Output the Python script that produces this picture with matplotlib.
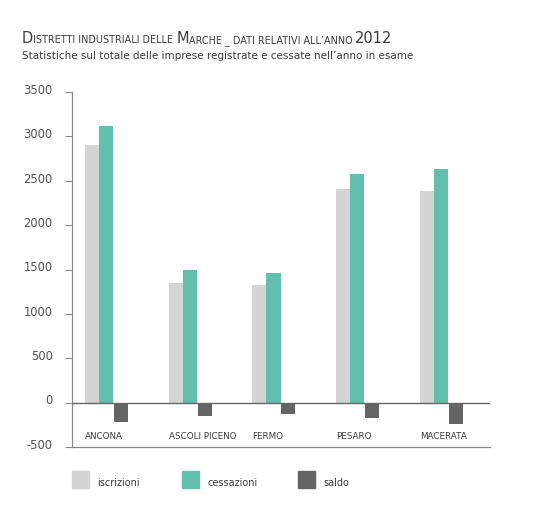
import matplotlib
matplotlib.use("Agg")
import matplotlib.pyplot as plt
import numpy as np
from matplotlib.patches import Rectangle
from matplotlib.transforms import ScaledTranslation

categories = ["ANCONA", "ASCOLI PICENO", "FERMO", "PESARO", "MACERATA"]
iscrizioni = [2900, 1350, 1330, 2410, 2390]
cessazioni = [3120, 1500, 1460, 2580, 2630]
saldo = [-220, -150, -130, -170, -240]
series_names = ["iscrizioni", "cessazioni", "saldo"]
yticks = [-500, 0, 500, 1000, 1500, 2000, 2500, 3000, 3500]

c_isc = "#d4d4d4"
c_ces = "#62bfad"
c_sal = "#646464"
txt = "#3a3a3a"

plt.rcParams['font.family'] = ['DejaVu Sans']

fig = plt.figure(figsize=(5.4, 5.1), dpi=100)
ax = fig.add_axes([72/540, 62/510, 418/540, 355/510])

x = np.arange(len(categories))
w = 0.168
ax.bar(x - w, iscrizioni, width=w, color=c_isc, align='center')
ax.bar(x, cessazioni, width=w, color=c_ces, align='center')
ax.bar(x + w + 0.01, saldo, width=w, color=c_sal, align='center')

ax.set_xlim(-0.406, 4.585)
ax.set_ylim(-500, 3500)
ax.axhline(0, color="#666666", lw=1.0, zorder=3)

for s in ["top", "right"]:
    ax.spines[s].set_visible(False)
ax.spines["left"].set_color("#888888")
ax.spines["bottom"].set_color("#888888")
ax.spines["left"].set_linewidth(0.9)
ax.spines["bottom"].set_linewidth(0.9)

ax.set_yticks(yticks)
ax.set_yticklabels([str(v) for v in yticks], fontsize=8.3, color="#505050")
ax.tick_params(axis='y', length=5, color="#888888", pad=9)
off = ScaledTranslation(0, 3 / 72, fig.dpi_scale_trans)
for lab in ax.get_yticklabels():
    lab.set_transform(lab.get_transform() + off)
ax.set_xticks([])

for i, c in enumerate(categories):
    ax.text(x[i] - 1.5 * w, -370, c, fontsize=6.3, color=txt,
            ha='left', va='center')

# Title in small caps style
renderer = fig.canvas.get_renderer()

def place_pieces(pieces, x0, y0):
    xpos = x0
    for s, size in pieces:
        t = fig.text(xpos, y0, s, fontsize=size, color=txt, ha='left',
                     va='baseline', transform=None)
        bb = t.get_window_extent(renderer=renderer)
        xpos = bb.x1

title_pieces = [("D", 10.5), ("ISTRETTI INDUSTRIALI DELLE ", 6.9), ("M", 10.5),
                ("ARCHE _ DATI RELATIVI ALL\u2019ANNO ", 6.9), ("2012", 10.5)]
place_pieces(title_pieces, 22, 510 - 43)

fig.text(22 / 540, 1 - 59 / 510,
         "Statistiche sul totale delle imprese registrate e cessate nell\u2019anno in esame",
         fontsize=7.5, color=txt, ha='left', va='baseline')

# Legend
leg = [(c_isc, series_names[0], 72, 97), (c_ces, series_names[1], 182, 207),
       (c_sal, series_names[2], 298, 323)]
for col, name, sx, lx in leg:
    fig.patches.append(Rectangle((sx / 540, 1 - 489 / 510), 17 / 540, 17 / 510,
                                 transform=fig.transFigure, color=col))
    fig.text(lx / 540, 1 - 483 / 510, name, fontsize=7.0, color=txt,
             ha='left', va='center')

fig.savefig("out.png", dpi=100, facecolor="white")
